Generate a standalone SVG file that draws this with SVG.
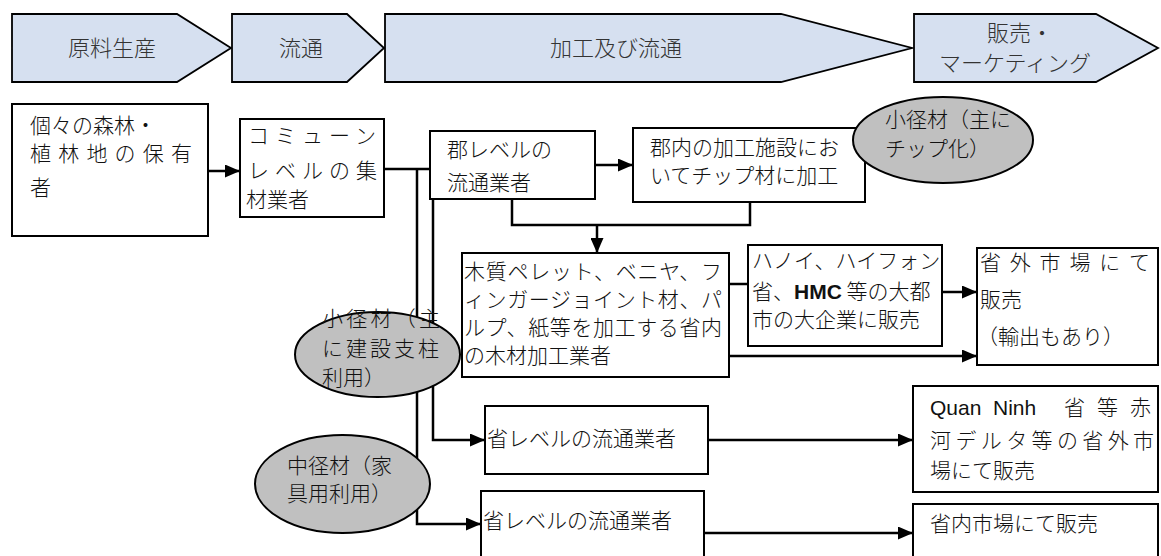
<svg xmlns="http://www.w3.org/2000/svg" width="1161" height="556" viewBox="0 0 1161 556">
<style>
text{font-family:"Noto Sans CJK JP","Noto Sans",sans-serif;font-size:21px;fill:#111;font-weight:300}
.ch{fill:#D6E0F0;stroke:#000;stroke-width:1.8}
.cht{fill:#333;font-size:22px;text-anchor:middle}
.box{fill:#fff;stroke:#000;stroke-width:2}
.ell{fill:#C0C0C0;stroke:#000;stroke-width:2}
.ln{fill:none;stroke:#000;stroke-width:2.5}
.lat{font-family:"Liberation Sans",Arial,sans-serif}
</style>
<defs>
<marker id="ah" markerUnits="userSpaceOnUse" markerWidth="15" markerHeight="13" refX="15" refY="6.5" orient="auto">
<path d="M0,0 L15,6.5 L0,13 z" fill="#000"/>
</marker>
</defs>
<g id="stages">
<g id="stage1"><polygon class="ch" points="12,14 177,14 231,48 177,82 12,82"/><text class="cht" x="112" y="56">原料生産</text></g>
<g id="stage2"><polygon class="ch" points="232,14 347,14 384,48 347,82 232,82"/><text class="cht" x="301" y="56">流通</text></g>
<g id="stage3"><polygon class="ch" points="385,14 781,14 912,48 781,82 385,82"/><text class="cht" x="616" y="56">加工及び流通</text></g>
<g id="stage4"><polygon class="ch" points="914,14 1096,14 1158,48 1096,82 914,82"/><text class="cht" x="1020" y="41">販売・</text><text class="cht" x="1015" y="71">マーケティング</text></g>
</g>
<g id="connectors">
<line class="ln" x1="208" y1="171" x2="240" y2="171" marker-end="url(#ah)"/>
<line class="ln" x1="384" y1="169" x2="430" y2="169"/>
<polyline class="ln" points="417,169 417,524 481,524" marker-end="url(#ah)"/>
<polyline class="ln" points="433,199 433,440 485,440" marker-end="url(#ah)"/>
<line class="ln" x1="595" y1="165" x2="633" y2="165" marker-end="url(#ah)"/>
<polyline class="ln" points="512,199 512,225 750,225 750,202"/>
<line class="ln" x1="597" y1="225" x2="597" y2="253" marker-end="url(#ah)"/>
<line class="ln" x1="729" y1="284" x2="748" y2="284"/>
<line class="ln" x1="942" y1="292" x2="977" y2="292" marker-end="url(#ah)"/>
<line class="ln" x1="729" y1="356" x2="977" y2="356" marker-end="url(#ah)"/>
<line class="ln" x1="708" y1="440" x2="913" y2="440" marker-end="url(#ah)"/>
<line class="ln" x1="704" y1="533" x2="913" y2="533" marker-end="url(#ah)"/>
</g>
<g id="owner"><rect class="box" x="12" y="104" width="196" height="132"/>
<text x="30" y="133">個々の森林・</text>
<text x="30" y="161" textLength="162" lengthAdjust="spacing">植林地の保有</text>
<text x="30" y="195">者</text></g>
<g id="commune"><rect class="box" x="240" y="119" width="144" height="98"/>
<text x="248" y="143" textLength="128" lengthAdjust="spacing">コミューン</text>
<text x="248" y="178" textLength="129" lengthAdjust="spacing">レベルの集</text>
<text x="246" y="207">材業者</text></g>
<g id="district"><rect class="box" x="430" y="131" width="165" height="68"/>
<text x="447" y="157" font-size="22">郡レベルの</text>
<text x="447" y="190" font-size="22">流通業者</text></g>
<g id="chip"><rect class="box" x="633" y="128" width="232" height="74"/>
<text x="650" y="155">郡内の加工施設にお</text>
<text x="650" y="183">いてチップ材に加工</text></g>
<g id="small-chip"><ellipse class="ell" cx="943" cy="140" rx="90" ry="43"/>
<text x="885" y="127" font-size="18.5">小径材（主に</text>
<text x="885" y="156" font-size="18.5">チップ化）</text></g>
<g id="processor"><rect class="box" x="462" y="253" width="267" height="124"/>
<text x="464" y="279" textLength="258" lengthAdjust="spacing">木質ペレット、ベニヤ、フ</text>
<text x="464" y="307" textLength="258" lengthAdjust="spacing">ィンガージョイント材、パ</text>
<text x="464" y="335" textLength="258" lengthAdjust="spacing">ルプ、紙等を加工する省内</text>
<text x="464" y="363">の木材加工業者</text></g>
<g id="bigcity"><rect class="box" x="748" y="245" width="194" height="101"/>
<text x="752" y="268" font-size="20.5">ハノイ、ハイフォン</text>
<text x="752" y="299" font-size="20.5">省、<tspan class="lat" font-weight="bold">HMC</tspan> 等の大都</text>
<text x="752" y="327" font-size="20.5">市の大企業に販売</text></g>
<g id="outside-market"><rect class="box" x="977" y="248" width="181" height="117"/>
<text x="980" y="270" font-size="22" textLength="170" lengthAdjust="spacing">省外市場にて</text>
<text x="980" y="307" font-size="22">販売</text>
<text x="977" y="344" font-size="22">（輸出もあり）</text></g>
<g id="small-construction"><ellipse class="ell" cx="377.5" cy="354.5" rx="82.5" ry="42.5"/>
<text x="322" y="326" font-size="20" textLength="118" lengthAdjust="spacing">小径材（主</text>
<text x="322" y="356" font-size="20" textLength="117" lengthAdjust="spacing">に建設支柱</text>
<text x="322" y="385" font-size="20">利用）</text></g>
<g id="province1"><rect class="box" x="485" y="406" width="223" height="68"/>
<text x="487" y="446" font-size="22.5">省レベルの流通業者</text></g>
<g id="quang-ninh"><rect class="box" x="913" y="386" width="245" height="106"/>
<text y="415" font-size="22"><tspan class="lat" x="930">Quan</tspan><tspan class="lat" x="993">Ninh</tspan><tspan x="1064">省</tspan><tspan x="1097">等</tspan><tspan x="1130">赤</tspan></text>
<text x="930" y="448" font-size="22" textLength="224" lengthAdjust="spacing">河デルタ等の省外市</text>
<text x="930" y="478" font-size="22">場にて販売</text></g>
<g id="medium"><ellipse class="ell" cx="342.5" cy="484" rx="87.5" ry="49"/>
<text x="287" y="473" font-size="19.5">中径材（家</text>
<text x="287" y="501" font-size="19.5">具用利用）</text></g>
<g id="province2"><rect class="box" x="481" y="491" width="223" height="80"/>
<text x="483" y="528" font-size="22.5">省レベルの流通業者</text></g>
<g id="inside-market"><rect class="box" x="913" y="504" width="245" height="70"/>
<text x="930" y="531" font-size="22">省内市場にて販売</text></g>
</svg>
